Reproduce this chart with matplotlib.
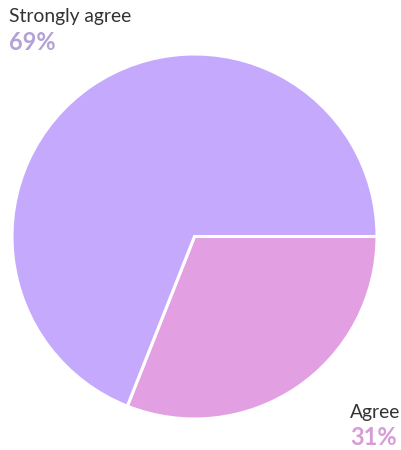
import matplotlib
matplotlib.use("Agg")
import matplotlib.pyplot as plt

labels = ["Agree", "Strongly agree"]
values = [31, 69]
wedge_colors = ["#E2A0E2", "#C5A9FD"]
label_colors = ["#D79CD7", "#B3A2D8"]

W, H = 402, 450
fig = plt.figure(figsize=(W / 100, H / 100), dpi=100)
ax = fig.add_axes([0, 0, 1, 1])

ax.pie(values, colors=wedge_colors, startangle=0, counterclock=False,
       center=(194.5, H - 236.5), radius=182.5, frame=True,
       wedgeprops=dict(edgecolor="white", linewidth=2.2))
ax.set_xlim(0, W)
ax.set_ylim(0, H)
ax.set_aspect("equal")
ax.axis("off")

font = "Lato"
# Strongly agree label (top-left)
ax.text(9, H - 22, labels[1], fontsize=13.9, color="#333333", family=font,
        ha="left", va="baseline")
ax.text(9, H - 50, f"{values[1]}%", fontsize=17, color=label_colors[1],
        family=font, fontweight="bold", ha="left", va="baseline")
# Agree label (bottom-right)
ax.text(350, H - 418, labels[0], fontsize=13.9, color="#333333", family=font,
        ha="left", va="baseline")
ax.text(350, H - 445, f"{values[0]}%", fontsize=17, color=label_colors[0],
        family=font, fontweight="bold", ha="left", va="baseline")

fig.savefig("out.png", dpi=100)
